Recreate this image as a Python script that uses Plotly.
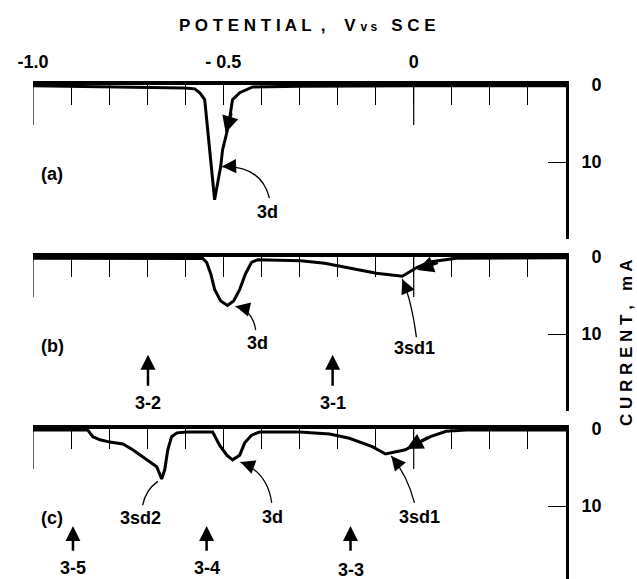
import plotly.graph_objects as go

# ---------------- data (potential in V vs SCE, current in mA) ----------------
a_v = [-1.0, -0.75, -0.601, -0.575, -0.562, -0.549, -0.541, -0.531, -0.523,
       -0.507, -0.502, -0.491, -0.483, -0.476, -0.457, -0.423, -0.30, 0.0, 0.4]
a_i = [0.1, 0.25, 0.4, 0.5, 1.0, 1.9, 6.2, 10.6, 14.9,
       10.6, 8.4, 6.2, 4.2, 1.9, 1.0, 0.26, 0.15, 0.1, 0.1]

b_v = [-1.0, -0.70, -0.554, -0.544, -0.533, -0.523, -0.507, -0.489, -0.473,
       -0.457, -0.442, -0.426, -0.41, -0.297, -0.234, -0.098, -0.030,
       0.007, 0.041, 0.112, 0.4]
b_i = [0.15, 0.2, 0.2, 0.7, 2.2, 4.2, 5.7, 6.3, 5.7,
       4.2, 2.2, 0.7, 0.35, 0.5, 0.8, 2.1, 2.5,
       1.4, 0.65, 0.15, 0.1]

c_v = [-1.0, -0.856, -0.843, -0.824, -0.798, -0.764, -0.738, -0.712, -0.688,
       -0.675, -0.662, -0.654, -0.646, -0.636, -0.622, -0.596, -0.528,
       -0.510, -0.491, -0.476, -0.457, -0.444, -0.426, -0.405, -0.30,
       -0.221, -0.169, -0.109, -0.074, -0.022, 0.012, 0.044, 0.085, 0.138, 0.4]
c_i = [0.13, 0.13, 1.0, 1.4, 1.7, 1.95, 2.7, 3.6, 4.4,
       4.9, 6.5, 5.3, 2.7, 1.0, 0.5, 0.4, 0.4,
       2.1, 3.4, 4.0, 3.4, 1.8, 0.8, 0.4, 0.4,
       0.65, 1.2, 2.3, 3.25, 2.7, 1.8, 1.0, 0.3, 0.13, 0.13]

x_tick_vals = [-1.0, -0.5, 0.0]
x_tick_text = ["-1.0", "- 0.5", "0"]
long_ticks = [-1.0, 0.0]
y_tick_vals = [0, 10, 20]
y_tick_text = ["  0", "10", ""]

panel_names = ["(a)", "(b)", "(c)"]

# peak labels: (panel, text, label_v, label_i, tip_v, tip_i, tail_v, tail_i, ctrl_v, ctrl_i)
peak_labels = [
    (0, "3d", -0.384, 16.5, -0.504, 10.6, -0.379, 14.7, -0.400, 10.4),
    (1, "3d", -0.410, 11.2, -0.468, 6.4, -0.415, 9.5, -0.423, 6.9),
    (1, "3sd1", 0.002, 11.8, -0.030, 2.9, 0.007, 10.4, -0.006, 5.6),
    (2, "3sd2", -0.717, 11.6, -0.672, 6.8, -0.712, 9.9, -0.704, 7.9),
    (2, "3d", -0.371, 11.4, -0.455, 4.3, -0.373, 9.6, -0.384, 5.6),
    (2, "3sd1", 0.015, 11.4, -0.059, 3.5, 0.002, 9.6, -0.017, 6.0),
]

# sweep-direction arrows on the curves: (panel, tip_v, tip_i, tail_v, tail_i)
sweep_arrows = [
    (0, -0.494, 6.2, -0.478, 3.5),
    (1, 0.009, 1.7, 0.067, 0.65),
    (2, -0.019, 2.6, 0.041, 1.0),
]

# sample markers: (panel, text, v, tip_i, tail_i, label_i)
samples = [
    (1, "3-2", -0.698, 12.7, 16.9, 19.0),
    (1, "3-1", -0.213, 12.7, 16.9, 19.0),
    (2, "3-5", -0.895, 12.6, 16.0, 18.1),
    (2, "3-4", -0.544, 12.6, 16.0, 18.1),
    (2, "3-3", -0.166, 12.6, 16.0, 18.3),
]

# ---------------- layout geometry ----------------
W, H = 637, 579
x_dom = [33 / W, 566 / W]
y_doms = [[1 - 239 / H, 1 - 85 / H], [1 - 411 / H, 1 - 257 / H], [0.0, 1 - 429 / H]]
y_ranges = [[20, 0], [20, 0], [150 / 7.7, 0]]
panel_px = [154, 154, 150]

FONT = "Liberation Sans, Arial, Helvetica, sans-serif"
BOLD = dict(family=FONT, size=18, color="black", weight=700)

fig = go.Figure()
for k, (vv, ii) in enumerate([(a_v, a_i), (b_v, b_i), (c_v, c_i)]):
    sfx = "" if k == 0 else str(k + 1)
    fig.add_trace(go.Scatter(x=vv, y=ii, mode="lines",
                             line=dict(color="black", width=3),
                             xaxis="x" + sfx, yaxis="y" + sfx,
                             showlegend=False, hoverinfo="skip"))

layout = dict(width=W, height=H, autosize=False,
              margin=dict(l=0, r=0, t=0, b=0, pad=0),
              paper_bgcolor="white", plot_bgcolor="white",
              showlegend=False, font=dict(family=FONT, color="black"))

for k in range(3):
    sfx = "" if k == 0 else str(k + 1)
    layout["xaxis" + sfx] = dict(
        domain=x_dom, range=[-1.0, 0.4], side="top", anchor="y" + sfx,
        showline=True, linewidth=4, linecolor="black", automargin=False,
        ticks="inside", tickvals=x_tick_vals, ticktext=x_tick_text,
        ticklen=20, tickwidth=1.2, tickcolor="black",
        minor=dict(dtick=0.1, tick0=0, ticks="inside", ticklen=20,
                   tickwidth=1.2, tickcolor="black", showgrid=False),
        showgrid=False, zeroline=False, showticklabels=(k == 0),
        tickfont=BOLD, ticklabelstandoff=6, fixedrange=True)
    layout["yaxis" + sfx] = dict(
        domain=y_doms[k], range=y_ranges[k], side="right", anchor="x" + sfx,
        showline=True, linewidth=3, linecolor="black", automargin=False,
        ticks="inside", tickvals=y_tick_vals, ticktext=y_tick_text,
        ticklen=18, tickwidth=1.2, tickcolor="black",
        showgrid=False, zeroline=False, tickfont=BOLD,
        ticklabelstandoff=9, fixedrange=True)

def refs(k):
    sfx = "" if k == 0 else str(k + 1)
    return "x" + sfx, "y" + sfx

shapes = []
for k in range(3):
    xr, yr = refs(k)
    for v in long_ticks:
        shapes.append(dict(type="line", xref=xr, yref=yr + " domain",
                           x0=v, x1=v, y0=1, y1=1 - 40 / panel_px[k],
                           line=dict(color="black", width=1.2)))

ann = []
# panel letters
for k, name in enumerate(panel_names):
    xr, yr = refs(k)
    ann.append(dict(text=name, x=-0.950, y=11.6, xref=xr, yref=yr,
                    showarrow=False, font=BOLD))

# peak labels with curved leader arrows
for (k, t, lv, li, tv, ti, av, ai, cv, ci) in peak_labels:
    xr, yr = refs(k)
    ann.append(dict(text=t, x=lv, y=li, xref=xr, yref=yr, showarrow=False, font=BOLD))
    shapes.append(dict(type="path", xref=xr, yref=yr,
                       path=f"M {av},{ai} Q {cv},{ci} {tv},{ti}",
                       line=dict(color="black", width=1.3)))
    hv = tv + 0.3 * (cv - tv)
    hi = ti + 0.3 * (ci - ti)
    ann.append(dict(text="", x=tv, y=ti, xref=xr, yref=yr, ax=hv, ay=hi,
                    axref=xr, ayref=yr, showarrow=True, arrowhead=2,
                    arrowsize=2.2, arrowwidth=1.3, arrowcolor="black", standoff=0))

for (k, tv, ti, av, ai) in sweep_arrows:
    xr, yr = refs(k)
    ann.append(dict(text="", x=tv, y=ti, xref=xr, yref=yr, ax=av, ay=ai,
                    axref=xr, ayref=yr, showarrow=True, arrowhead=2,
                    arrowsize=1.1, arrowwidth=3, arrowcolor="black", standoff=0))

for (k, t, v, tip, tail, lab) in samples:
    xr, yr = refs(k)
    ann.append(dict(text="", x=v, y=tip, xref=xr, yref=yr, ax=v, ay=tail,
                    axref=xr, ayref=yr, showarrow=True, arrowhead=2,
                    arrowsize=1.2, arrowwidth=2.5, arrowcolor="black", standoff=0))
    ann.append(dict(text=t, x=v, y=lab, xref=xr, yref=yr, showarrow=False, font=BOLD))

# axis titles
ann.append(dict(text="P O T E N T I A L  ,    V <span style='font-size:12px'>v s</span>   S C E",
                x=307 / W, y=1 - 26 / H, xref="paper", yref="paper",
                xanchor="center", yanchor="middle",
                showarrow=False, font=dict(family=FONT, size=17, color="black", weight=700)))
ann.append(dict(text="C U R R E N T ,   m A", textangle=-90,
                x=626 / W, y=1 - 343 / H, xref="paper", yref="paper",
                xanchor="center", yanchor="middle",
                showarrow=False, font=dict(family=FONT, size=17, color="black", weight=700)))

layout["shapes"] = shapes
layout["annotations"] = ann

fig.update_layout(**layout)
fig.write_html("out.html")
